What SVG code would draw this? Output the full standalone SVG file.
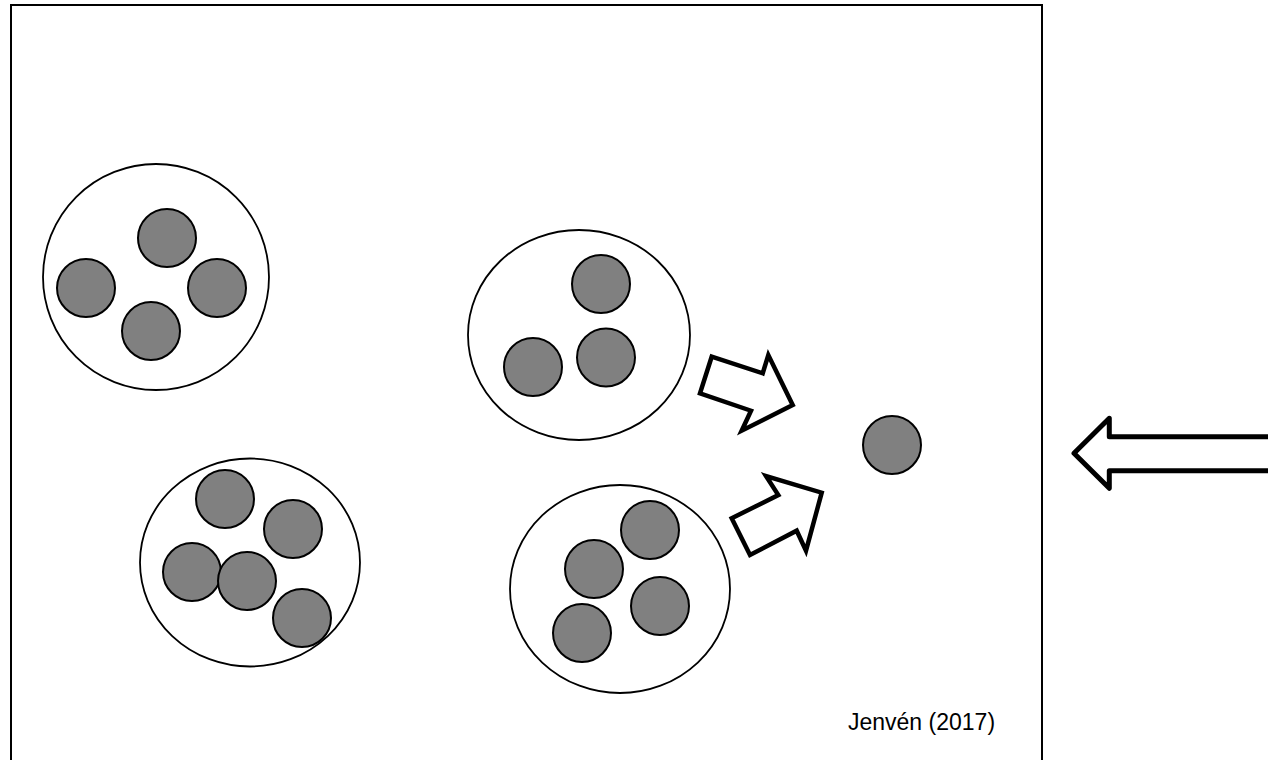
<svg xmlns="http://www.w3.org/2000/svg" width="1268" height="760" viewBox="0 0 1268 760">
<style>
.frame{fill:none;stroke:#000;stroke-width:2}
.outer{fill:#fff;stroke:#000;stroke-width:1.8}
.ball{fill:#808080;stroke:#000;stroke-width:2}
.arrow{fill:#fff;stroke:#000;stroke-width:4.5;stroke-linejoin:miter}
.big{fill:none;stroke:#000;stroke-width:5;stroke-linejoin:round}
.label{font-family:"Liberation Sans",Arial,sans-serif;font-size:23px;fill:#000}
</style>
<rect width="1268" height="760" fill="#fff"/>
<rect class="frame" x="11" y="5" width="1031" height="800"/>
<g id="cluster1">
<circle class="outer" cx="156" cy="277" r="113"/>
<circle class="ball" cx="167" cy="238" r="29"/>
<circle class="ball" cx="86" cy="288" r="29"/>
<circle class="ball" cx="217" cy="288" r="29"/>
<circle class="ball" cx="151" cy="331" r="29"/>
</g>
<g id="cluster2">
<ellipse class="outer" cx="250" cy="562.5" rx="110" ry="104"/>
<circle class="ball" cx="225" cy="499" r="29"/>
<circle class="ball" cx="293" cy="529" r="29"/>
<circle class="ball" cx="192" cy="572" r="29"/>
<circle class="ball" cx="247" cy="581" r="29"/>
<circle class="ball" cx="302" cy="618" r="29"/>
</g>
<g id="cluster3">
<ellipse class="outer" cx="579" cy="335" rx="111" ry="105"/>
<circle class="ball" cx="601" cy="284" r="29"/>
<circle class="ball" cx="606" cy="357.5" r="29"/>
<circle class="ball" cx="533" cy="367" r="29"/>
</g>
<g id="cluster4">
<ellipse class="outer" cx="620" cy="589" rx="110" ry="104"/>
<circle class="ball" cx="650" cy="530" r="29"/>
<circle class="ball" cx="594" cy="569" r="29"/>
<circle class="ball" cx="660" cy="606" r="29"/>
<circle class="ball" cx="582" cy="633" r="29"/>
</g>
<g id="single">
<circle class="ball" cx="892" cy="445" r="29"/>
</g>
<g id="connectors">
<polygon class="arrow" points="711.7,356.7 762.7,373.3 768.3,355 792.7,405 741.7,430.7 751,410.7 700,393.3"/>
<polygon class="arrow" points="731.7,518.3 778.3,495 766,476 821.7,492.7 806,550.7 796.7,530.7 750,555"/>
<polyline class="big" points="1280,436.7 1109.3,436.7 1109.3,418.3 1074,453.3 1109.3,488.3 1109.3,470.7 1280,470.7"/>
</g>
<text class="label" x="848" y="730">Jenvén (2017)</text>
</svg>
